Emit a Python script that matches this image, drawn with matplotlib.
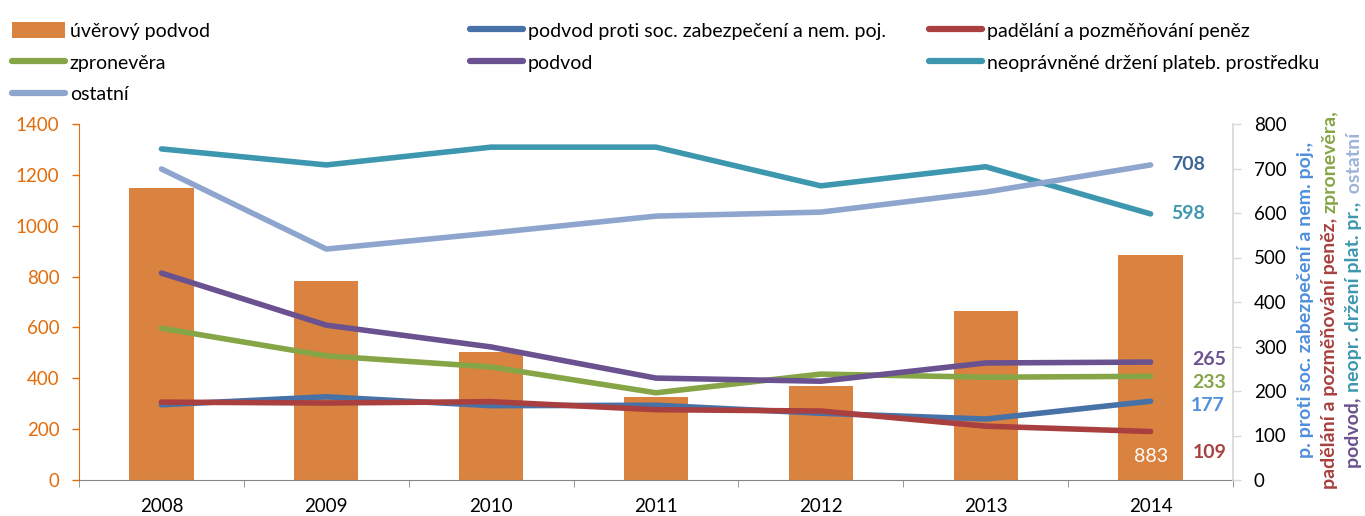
import numpy as np
import matplotlib
matplotlib.use("Agg")
import matplotlib.pyplot as plt
from matplotlib.patches import Patch
from matplotlib.lines import Line2D

plt.rcParams['font.family'] = ['Lato', 'DejaVu Sans']
plt.rcParams['font.size'] = 13

#########################
##    data             ##
#########################

roky = ['2008', '2009', '2010', '2011', '2012', '2013', '2014']

uverovy_podvod = [1148, 782, 503, 326, 370, 665, 883]       # leva osa

soc_zabezpeceni = [169, 187, 167, 168, 150, 137, 177]      # prava osa
padelani = [175, 173, 176, 158, 155, 121, 109]
zpronevera = [341, 279, 254, 196, 238, 231, 233]
podvod = [465, 348, 299, 229, 222, 263, 265]
neopravnene = [744, 708, 748, 748, 661, 704, 598]
ostatni = [699, 519, 555, 593, 602, 647, 708]

nazvy = ['úvěrový podvod',
         'podvod proti soc. zabezpečení a nem. poj.',
         'padělání a pozměňování peněz',
         'zpronevěra',
         'podvod',
         'neoprávněné držení plateb. prostředku',
         'ostatní']

#########################
##    barvy            ##
#########################

c_bar = '#DA823F'
c_soc = '#4672A8'
c_pad = '#A9403F'
c_zpr = '#86A546'
c_pod = '#6A5190'
c_neo = '#3D97AF'
c_ost = '#8EA5CE'
c_orange_txt = '#E46C0A'

fig = plt.figure(figsize=(13.65, 5.16), dpi=100)
ax = fig.add_axes([79/1365, 1 - 480/516, (1233 - 79)/1365, (480 - 124)/516])
ax2 = ax.twinx()

x = np.arange(len(roky))

ax.bar(x, uverovy_podvod, width=0.39, color=c_bar, zorder=2)
ax.set_ylim(0, 1400)
ax.set_yticks(range(0, 1401, 200))
ax.set_xlim(-0.5, len(roky) - 0.5)
ax.set_xticks(x)
ax.set_xticklabels(roky)
ax.set_xticks(np.arange(-0.5, len(roky)), minor=True)
ax.tick_params(axis='x', which='major', length=0, pad=13, labelsize=13.5)
ax.tick_params(axis='x', which='minor', length=5, color='#868686', direction='out')
ax.tick_params(axis='y', colors=c_orange_txt, length=5, width=1, pad=9, labelsize=13.5)

series = [(soc_zabezpeceni, c_soc), (padelani, c_pad), (zpronevera, c_zpr),
          (podvod, c_pod), (neopravnene, c_neo), (ostatni, c_ost)]
for vals, col in series:
    ax2.plot(x, vals, color=col, lw=4, solid_capstyle='round', solid_joinstyle='round')

ax2.set_ylim(0, 800)
ax2.set_yticks(range(0, 801, 100))
ax2.tick_params(axis='y', colors='black', length=6, width=1, pad=9, labelsize=13.5)
ax2.tick_params(axis='y', which='major', color='#D9D9D9')

for a in (ax, ax2):
    a.spines['top'].set_visible(False)
ax.spines['left'].set_color(c_orange_txt)
ax.spines['bottom'].set_color('#868686')
ax.spines['right'].set_visible(False)
ax2.spines['left'].set_visible(False)
ax2.spines['bottom'].set_visible(False)
ax2.spines['right'].set_color('#D9D9D9')
ax2.spines['right'].set_linewidth(1.3)

# popisky hodnot 2014
posl = len(roky) - 1
popisky = [(ostatni[-1], '#3E6699', 21, 0),
           (neopravnene[-1], c_neo, 21, 0),
           (podvod[-1], c_pod, 42, 3),
           (zpronevera[-1], c_zpr, 42, -6),
           (soc_zabezpeceni[-1], '#4F8FDC', 40, -4),
           (padelani[-1], c_pad, 42, -21)]
for val, col, dx, dy in popisky:
    ax2.annotate(str(val), (posl, val), xytext=(dx, dy), textcoords='offset pixels',
                 ha='left', va='center', color=col, fontweight='bold', fontsize=14)
ax.annotate(str(uverovy_podvod[-1]), (posl, 0), xytext=(0, 24), textcoords='offset pixels',
            ha='center', va='center', color='white', fontsize=14)

# legenda - tri sloupce jako v Excelu
def line_h(c):
    return Line2D([0], [0], color=c, lw=4.5, solid_capstyle='round')

sloupce = [
    (12, [Patch(facecolor=c_bar, edgecolor='none'), line_h(c_zpr), line_h(c_ost)],
     [nazvy[0], nazvy[3], nazvy[6]]),
    (470, [line_h(c_soc), line_h(c_pod)], [nazvy[1], nazvy[4]]),
    (929, [line_h(c_pad), line_h(c_neo)], [nazvy[2], nazvy[5]]),
]
for xpx, hs, ls in sloupce:
    fig.legend(hs, ls, loc='upper left', bbox_to_anchor=(xpx/1365, 1 - 22/516),
               frameon=False, borderpad=0, borderaxespad=0, handlelength=2.75,
               handleheight=0.9, handletextpad=0.22, labelspacing=0.72, fontsize=14)

# svisle popisky prave osy (vicebarevne)
def svisly_text(xpx, kusy, ystred=300):
    texty = []
    for s, c in kusy:
        t = fig.text(xpx/1365, 0, s, rotation=90, color=c, fontsize=14,
                     fontweight='bold', ha='center', va='bottom')
        texty.append(t)
    r = fig.canvas.get_renderer()
    vysky = [t.get_window_extent(r).height for t in texty]
    y = (516 - ystred) - sum(vysky) / 2
    for t, h in zip(texty, vysky):
        t.set_y(y / 516)
        y += h

svisly_text(1305, [('p. proti soc. zabezpečení a nem. poj.,', '#4F8FDC')])
svisly_text(1330, [('padělání a pozměňování peněz, ', c_pad), ('zpronevěra,', c_zpr)])
svisly_text(1354, [('podvod, ', c_pod), ('neopr. držení plat. pr., ', c_neo), (' ostatní', '#9DB3D8')])

plt.savefig('out.png', dpi=100)
